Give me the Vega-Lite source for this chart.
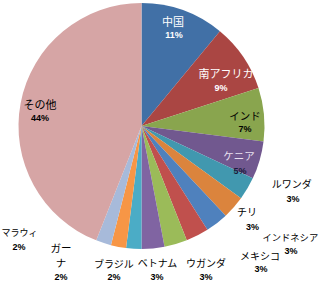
{
  "$schema": "https://vega.github.io/schema/vega-lite/v6.json",
  "width": 283,
  "height": 252,
  "autosize": {"type": "none"},
  "padding": {"left": 0, "top": 0, "right": 38, "bottom": 48},
  "background": "white",
  "view": {"stroke": null},
  "data": {"values": [
    {"idx": 1, "name": "中国", "share": 0.11},
    {"idx": 2, "name": "南アフリカ", "share": 0.09},
    {"idx": 3, "name": "インド", "share": 0.07},
    {"idx": 4, "name": "ケニア", "share": 0.05},
    {"idx": 5, "name": "ルワンダ", "share": 0.03},
    {"idx": 6, "name": "チリ", "share": 0.03},
    {"idx": 7, "name": "インドネシア", "share": 0.03},
    {"idx": 8, "name": "メキシコ", "share": 0.03},
    {"idx": 9, "name": "ウガンダ", "share": 0.03},
    {"idx": 10, "name": "ベトナム", "share": 0.03},
    {"idx": 11, "name": "ブラジル", "share": 0.02},
    {"idx": 12, "name": "ガーナ", "share": 0.02},
    {"idx": 13, "name": "マラウィ", "share": 0.02},
    {"idx": 14, "name": "その他", "share": 0.44}
  ]},
  "encoding": {
    "theta": {"field": "share", "type": "quantitative", "stack": true},
    "order": {"field": "idx", "type": "quantitative"},
    "detail": {"field": "name", "type": "nominal"}
  },
  "layer": [
    {"mark": {"type": "arc", "outerRadius": 123},
     "encoding": {"color": {"field": "name", "type": "nominal", "legend": null,
       "scale": {"domain": ["中国","南アフリカ","インド","ケニア","ルワンダ","チリ","インドネシア","メキシコ","ウガンダ","ベトナム","ブラジル","ガーナ","マラウィ","その他"],
                 "range": ["#4170A6","#AA4643","#89A54E","#71588F","#4198AF","#DB843D","#4F81BD","#C0504D","#9BBB59","#8064A2","#4BACC6","#F79646","#A7BADA","#D6A5A5"]}}}},

    {"mark": {"type": "text", "radius": 104, "dx": -3.7, "dy": -5.4, "fill": "white", "font": "Noto Sans CJK JP", "fontSize": 11},
     "encoding": {"text": {"condition": {"test": "datum.name === '中国'", "field": "name"}, "value": ""}}},
    {"mark": {"type": "text", "radius": 104, "dx": -2.7, "dy": 6.9, "fill": "white", "font": "Liberation Sans", "fontWeight": "bold", "fontSize": 9},
     "encoding": {"text": {"condition": {"test": "datum.name === '中国'", "field": "share", "type": "quantitative", "format": ".0%"}, "value": ""}}},

    {"mark": {"type": "text", "radius": 104, "dx": -1.5, "dy": 7.5, "fill": "white", "font": "Noto Sans CJK JP", "fontSize": 11},
     "encoding": {"text": {"condition": {"test": "datum.name === '南アフリカ'", "field": "name"}, "value": ""}}},
    {"mark": {"type": "text", "radius": 104, "dx": -6.5, "dy": 20.8, "fill": "white", "font": "Liberation Sans", "fontWeight": "bold", "fontSize": 9},
     "encoding": {"text": {"condition": {"test": "datum.name === '南アフリカ'", "field": "share", "type": "quantitative", "format": ".0%"}, "value": ""}}},

    {"mark": {"type": "text", "radius": 104, "dx": 0, "dy": 0.5, "fill": "black", "font": "Noto Sans CJK JP", "fontSize": 10.5},
     "encoding": {"text": {"condition": {"test": "datum.name === 'インド'", "field": "name"}, "value": ""}}},
    {"mark": {"type": "text", "radius": 104, "dx": 0, "dy": 13, "fill": "black", "font": "Liberation Sans", "fontWeight": "bold", "fontSize": 9},
     "encoding": {"text": {"condition": {"test": "datum.name === 'インド'", "field": "share", "type": "quantitative", "format": ".0%"}, "value": ""}}},

    {"mark": {"type": "text", "radius": 104, "dx": -2.4, "dy": 1.7, "fill": "#e8e0f0", "font": "Noto Sans CJK JP", "fontSize": 10.5},
     "encoding": {"text": {"condition": {"test": "datum.name === 'ケニア'", "field": "name"}, "value": ""}}},
    {"mark": {"type": "text", "radius": 104, "dx": -1.4, "dy": 15.7, "fill": "#1a1a3a", "font": "Liberation Sans", "fontWeight": "bold", "fontSize": 9},
     "encoding": {"text": {"condition": {"test": "datum.name === 'ケニア'", "field": "share", "type": "quantitative", "format": ".0%"}, "value": ""}}},

    {"mark": {"type": "text", "radius": 104, "dx": 0.7, "dy": -0.5, "fill": "black", "font": "Noto Sans CJK JP", "fontSize": 11},
     "encoding": {"text": {"condition": {"test": "datum.name === 'その他'", "field": "name"}, "value": ""}}},
    {"mark": {"type": "text", "radius": 104, "dx": 0.7, "dy": 11.8, "fill": "black", "font": "Liberation Sans", "fontWeight": "bold", "fontSize": 9},
     "encoding": {"text": {"condition": {"test": "datum.name === 'その他'", "field": "share", "type": "quantitative", "format": ".0%"}, "value": ""}}},

    {"mark": {"type": "text", "radius": 123, "dx": 44.3, "dy": -3.6, "fill": "black", "font": "Noto Sans CJK JP", "fontSize": 10},
     "encoding": {"text": {"condition": {"test": "datum.name === 'ルワンダ'", "field": "name"}, "value": ""}}},
    {"mark": {"type": "text", "radius": 123, "dx": 45.6, "dy": 10.4, "fill": "black", "font": "Liberation Sans", "fontWeight": "bold", "fontSize": 9},
     "encoding": {"text": {"condition": {"test": "datum.name === 'ルワンダ'", "field": "share", "type": "quantitative", "format": ".0%"}, "value": ""}}},

    {"mark": {"type": "text", "radius": 123, "dx": 13.2, "dy": 5.4, "fill": "black", "font": "Noto Sans CJK JP", "fontSize": 10},
     "encoding": {"text": {"condition": {"test": "datum.name === 'チリ'", "field": "name"}, "value": ""}}},
    {"mark": {"type": "text", "radius": 123, "dx": 18.7, "dy": 19.7, "fill": "black", "font": "Liberation Sans", "fontWeight": "bold", "fontSize": 9},
     "encoding": {"text": {"condition": {"test": "datum.name === 'チリ'", "field": "share", "type": "quantitative", "format": ".0%"}, "value": ""}}},

    {"mark": {"type": "text", "radius": 123, "dx": 73.4, "dy": 14.8, "fill": "black", "font": "Noto Sans CJK JP", "fontSize": 9.3},
     "encoding": {"text": {"condition": {"test": "datum.name === 'インドネシア'", "field": "name"}, "value": ""}}},
    {"mark": {"type": "text", "radius": 123, "dx": 74.1, "dy": 27.8, "fill": "black", "font": "Liberation Sans", "fontWeight": "bold", "fontSize": 9},
     "encoding": {"text": {"condition": {"test": "datum.name === 'インドネシア'", "field": "share", "type": "quantitative", "format": ".0%"}, "value": ""}}},

    {"mark": {"type": "text", "radius": 123, "dx": 62.7, "dy": 21.1, "fill": "black", "font": "Noto Sans CJK JP", "fontSize": 10},
     "encoding": {"text": {"condition": {"test": "datum.name === 'メキシコ'", "field": "name"}, "value": ""}}},
    {"mark": {"type": "text", "radius": 123, "dx": 63.7, "dy": 33.4, "fill": "black", "font": "Liberation Sans", "fontWeight": "bold", "fontSize": 9},
     "encoding": {"text": {"condition": {"test": "datum.name === 'メキシコ'", "field": "share", "type": "quantitative", "format": ".0%"}, "value": ""}}},

    {"mark": {"type": "text", "radius": 123, "dx": 30.2, "dy": 19.9, "fill": "black", "font": "Noto Sans CJK JP", "fontSize": 10},
     "encoding": {"text": {"condition": {"test": "datum.name === 'ウガンダ'", "field": "name"}, "value": ""}}},
    {"mark": {"type": "text", "radius": 123, "dx": 30.2, "dy": 32.6, "fill": "black", "font": "Liberation Sans", "fontWeight": "bold", "fontSize": 9},
     "encoding": {"text": {"condition": {"test": "datum.name === 'ウガンダ'", "field": "share", "type": "quantitative", "format": ".0%"}, "value": ""}}},

    {"mark": {"type": "text", "radius": 123, "dx": 4.4, "dy": 15.5, "fill": "black", "font": "Noto Sans CJK JP", "fontSize": 10},
     "encoding": {"text": {"condition": {"test": "datum.name === 'ベトナム'", "field": "name"}, "value": ""}}},
    {"mark": {"type": "text", "radius": 123, "dx": 3.9, "dy": 28.5, "fill": "black", "font": "Liberation Sans", "fontWeight": "bold", "fontSize": 9},
     "encoding": {"text": {"condition": {"test": "datum.name === 'ベトナム'", "field": "share", "type": "quantitative", "format": ".0%"}, "value": ""}}},

    {"mark": {"type": "text", "radius": 123, "dx": -19.8, "dy": 16.2, "fill": "black", "font": "Noto Sans CJK JP", "fontSize": 10},
     "encoding": {"text": {"condition": {"test": "datum.name === 'ブラジル'", "field": "name"}, "value": ""}}},
    {"mark": {"type": "text", "radius": 123, "dx": -19.8, "dy": 28.2, "fill": "black", "font": "Liberation Sans", "fontWeight": "bold", "fontSize": 9},
     "encoding": {"text": {"condition": {"test": "datum.name === 'ブラジル'", "field": "share", "type": "quantitative", "format": ".0%"}, "value": ""}}},

    {"mark": {"type": "text", "radius": 123, "dx": -57.4, "dy": 1.7, "fill": "black", "font": "Noto Sans CJK JP", "fontSize": 10.5, "lineHeight": 15},
     "encoding": {"text": {"condition": {"test": "datum.name === 'ガーナ'", "value": ["ガー", "ナ"]}, "value": ""}}},
    {"mark": {"type": "text", "radius": 123, "dx": -57.4, "dy": 30.2, "fill": "black", "font": "Liberation Sans", "fontWeight": "bold", "fontSize": 9},
     "encoding": {"text": {"condition": {"test": "datum.name === 'ガーナ'", "field": "share", "type": "quantitative", "format": ".0%"}, "value": ""}}},

    {"mark": {"type": "text", "radius": 123, "dx": -66, "dy": -10, "align": "right", "fill": "black", "font": "Noto Sans CJK JP", "fontSize": 9},
     "encoding": {"text": {"condition": {"test": "datum.name === 'マラウィ'", "field": "name"}, "value": ""}}},
    {"mark": {"type": "text", "radius": 123, "dx": -84.5, "dy": 3.7, "fill": "black", "font": "Liberation Sans", "fontWeight": "bold", "fontSize": 9},
     "encoding": {"text": {"condition": {"test": "datum.name === 'マラウィ'", "field": "share", "type": "quantitative", "format": ".0%"}, "value": ""}}}
  ]
}
